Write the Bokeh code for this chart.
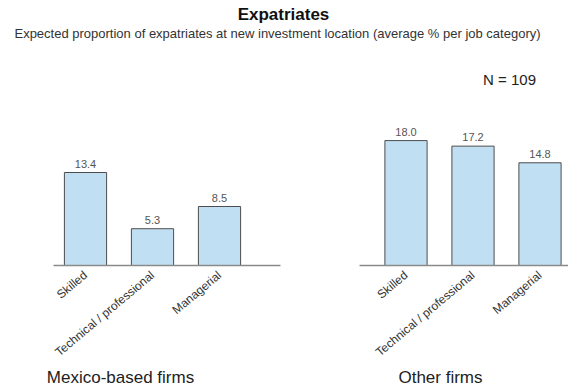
import math
from bokeh.plotting import figure
from bokeh.layouts import column, row
from bokeh.models import Range1d, FixedTicker, Label, ColumnDataSource
from bokeh.core.properties import value
from bokeh.embed import file_html
from bokeh.resources import INLINE

# ---- data ----
categories = ["Skilled", "Technical / professional", "Managerial"]
mexico_values = [13.4, 5.3, 8.5]
other_values = [18.0, 17.2, 14.8]
panel_titles = ["Mexico-based firms", "Other firms"]
title_text = "Expatriates"
subtitle_text = "Expected proportion of expatriates at new investment location (average % per job category)"
n_text = "N = 109"

FONT = "Liberation Sans"
FILL = "#c0dff3"
EDGE = "#4d4d4d"

W = 568
HEADER_H = 93
FOOTER_H = 22
ROW_H = 391 - HEADER_H - FOOTER_H
PX_PER_CAT = 67.0
PX_PER_UNIT = 6.94
FRAME_H = 172
AXIS_BELOW = ROW_H - FRAME_H
Y_TOP = FRAME_H / PX_PER_UNIT


def text_fig(height):
    f = figure(width=W, height=height, x_range=Range1d(0, W), y_range=Range1d(height, 0),
               x_axis_type=None, y_axis_type=None, toolbar_location=None,
               output_backend="svg", min_border=0)
    f.outline_line_color = None
    f.xgrid.visible = False
    f.ygrid.visible = False
    return f


header = text_fig(HEADER_H)
header.add_layout(Label(x=283, y=14, text=title_text, text_align="center", text_baseline="middle",
                        text_font=FONT, text_font_size="17px", text_font_style="bold",
                        text_color="#111111"))
header.add_layout(Label(x=277, y=33, text=subtitle_text, text_align="center", text_baseline="middle",
                        text_font=FONT, text_font_size="13px", text_color="#333333"))
header.add_layout(Label(x=509, y=79, text=n_text, text_align="center", text_baseline="middle",
                        text_font=FONT, text_font_size="15px", text_color="#222222"))


def panel(values, width, border_left, border_right, first_offset_px):
    frame_w = width - border_left - border_right
    x0 = -first_offset_px / PX_PER_CAT
    x1 = x0 + frame_w / PX_PER_CAT
    p = figure(width=width, height=ROW_H, x_range=Range1d(x0, x1), y_range=Range1d(0, Y_TOP),
               y_axis_type=None, toolbar_location=None, output_backend="svg",
               min_border_left=border_left, min_border_right=border_right,
               min_border_top=0, min_border_bottom=AXIS_BELOW)
    p.outline_line_color = None
    p.xgrid.visible = False
    p.ygrid.visible = False
    src = ColumnDataSource(dict(x=list(range(len(categories))), top=values,
                                label=[f"{v:.1f}" for v in values]))
    p.vbar(x="x", top="top", width=0.63, source=src, fill_color=FILL, line_color=EDGE, line_width=1)
    p.text(x="x", y="top", text="label", source=src, text_align="center", text_baseline="bottom",
           y_offset=-5, text_font=value(FONT), text_font_size="11px", text_color="#555555")
    ax = p.xaxis[0]
    ax.ticker = FixedTicker(ticks=list(range(len(categories))))
    ax.major_label_overrides = {i: c for i, c in enumerate(categories)}
    ax.major_label_orientation = math.radians(40)
    ax.major_label_standoff = 2
    ax.major_label_text_font = FONT
    ax.major_label_text_font_size = "12px"
    ax.major_label_text_color = "#333333"
    ax.major_tick_line_color = None
    ax.minor_tick_line_color = None
    ax.axis_line_color = "#8a8a8a"
    ax.axis_line_width = 1.5
    return p


# left panel occupies x 0..292, frame 53..280; right panel 292..568, frame 359..568
left = panel(mexico_values, 292, 53, 12, 32)
right = panel(other_values, 276, 67, 0, 46.5)

footer = text_fig(FOOTER_H)
footer.add_layout(Label(x=120, y=8, text=panel_titles[0], text_align="center", text_baseline="middle",
                        text_font=FONT, text_font_size="17px", text_color="#222222"))
footer.add_layout(Label(x=440, y=8, text=panel_titles[1], text_align="center", text_baseline="middle",
                        text_font=FONT, text_font_size="17px", text_color="#222222"))

layout = column(header, row(left, right), footer)
open("out.html", "w").write(file_html(layout, INLINE))
